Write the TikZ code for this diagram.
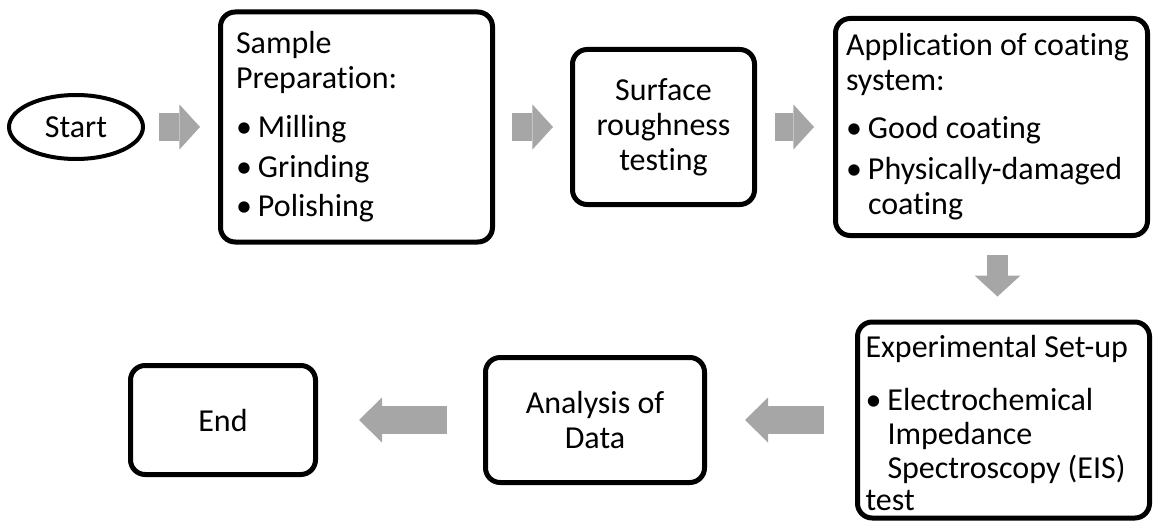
\documentclass[tikz,border=0pt]{standalone}
\usepackage{fontspec}
\setmainfont[Ligatures=NoCommon]{Carlito}
\usetikzlibrary{shapes.geometric,arrows.meta,calc}

\definecolor{arrowgray}{RGB}{166,166,166}
\newcommand{\flowfont}{\fontsize{24pt}{26.25pt}\selectfont}
\newcommand{\blt}{\makebox[16.5pt][l]{\textbullet}}
\newcommand{\ind}{\hspace*{16.5pt}}

\tikzset{
  flowbox/.style={draw, line width=3.75pt, rounded corners=11pt, inner sep=0pt, font=\flowfont},
  startnode/.style={draw, ellipse, line width=3pt, inner sep=0pt, minimum width=100.5pt, minimum height=48pt, font=\flowfont},
  blockarr/.style n args={3}{draw=arrowgray, line width=#1, -{Triangle[length=#2, width=#3, line width=0pt]}}
}

\begin{document}
\begin{tikzpicture}[x=0.75pt, y=-0.75pt]
\useasboundingbox (0,0) rectangle (1157,528);

% top row
\node[startnode] (start) at (76,127) {Start};
\node[flowbox, minimum width=204pt, minimum height=172.5pt, text width=180.75pt, align=flush left] (prep) at (356.5,127)
  {Sample\\Preparation:\\[10.5pt]\blt Milling\\[3.75pt]\blt Grinding\\[3pt]\blt Polishing};
\node[flowbox, minimum width=136.5pt, minimum height=116.25pt, align=center] (rough) at (663.5,127)
  {Surface\\roughness\\testing};
\node[flowbox, minimum width=234pt, minimum height=162.75pt, text width=218.25pt, align=flush left] (coat) at (991.5,127)
  {Application of coating\\system:\\[9.75pt]\blt Good coating\\[4.5pt]\blt Physically-damaged\\\ind coating};

% bottom row
\node[flowbox, minimum width=219pt, minimum height=147pt] (eis) at (1003.5,420) {};
\node[font=\flowfont, inner sep=0pt, text width=207pt, align=flush left] (eistext) at ([yshift=-2.5pt]eis.center)
  {Experimental Set-up\\[13.5pt]\blt Electrochemical\\[-1pt]\ind Impedance\\[-1pt]\ind Spectroscopy (EIS)\\[-2pt]test};
\node[flowbox, minimum width=164.25pt, minimum height=93.75pt, align=center] (anal) at (595,420) {Analysis of\\Data};
\node[flowbox, minimum width=138.75pt, minimum height=81.75pt] (end) at (223,420) {End};

% block arrows
\foreach \a/\b/\s/\e in {start/prep/10.5/13.5, prep/rough/12.75/12.75, rough/coat/13.5/14.25}
  \draw[blockarr={21pt}{15.4pt}{33.75pt}, shorten <=\s pt, shorten >=\e pt] (\a.east) -- (\b.west);

\coordinate (mid) at ($(coat.south)!0.5!(eis.north)$);
\draw[blockarr={15.75pt}{15.75pt}{34.5pt}, shorten <=12.75pt, shorten >=17.25pt] (mid |- coat.south) -- (mid |- eis.north);

\foreach \a/\b/\s/\e in {eis/anal/23.25/28.5, anal/end/27/30.75}
  \draw[blockarr={20.6pt}{17.25pt}{33.75pt}, shorten <=\s pt, shorten >=\e pt] (\a.west) -- (\b.east);
\end{tikzpicture}
\end{document}
